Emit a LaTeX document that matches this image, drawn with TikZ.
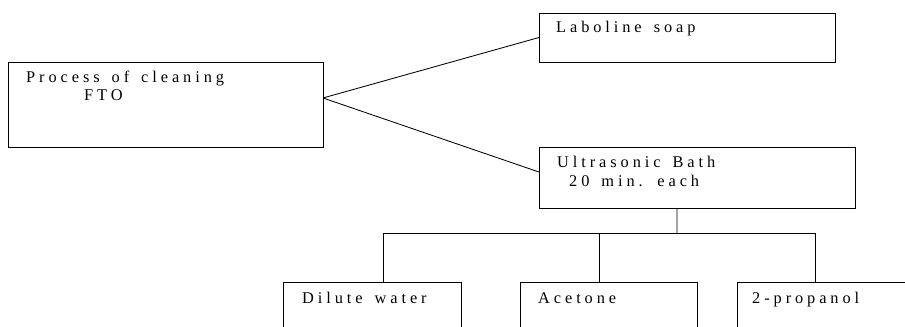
\documentclass[tikz,border=0pt]{standalone}
\usepackage{fontspec}
\setmainfont{Liberation Serif}
\newfontfamily\spaced[LetterSpace=24, WordSpace=1.5]{Liberation Serif}
\usetikzlibrary{positioning}

\tikzset{
    box/.style={rectangle, draw, line width=0.8pt, inner sep=0pt, outer sep=0pt},
    txt/.style={anchor=base west, inner sep=0pt, font=\spaced\fontsize{15.5}{18}\selectfont},
    link/.style={line width=0.8pt}
}

\begin{document}
\begin{tikzpicture}
        \useasboundingbox (0,0) rectangle (30.167,-10.9);
        \clip (0,0) rectangle (30.167,-10.9);

        \node[box, minimum width=10.5cm, minimum height=2.833cm] (fto) at (5.517,-3.483) {};
        \node[box, minimum width=9.867cm, minimum height=1.633cm] (soap) at (22.9,-1.25) {};
        \node[box, minimum width=10.533cm, minimum height=2.033cm] (ultra) at (23.233,-5.917) {};
        \node[box, minimum width=5.933cm, minimum height=2cm] (water) at (12.4,-10.4) {};
        \node[box, minimum width=5.9cm, minimum height=2cm] (acetone) at (20.283,-10.4) {};
        \node[box, minimum width=5.9cm, minimum height=2cm] (propanol) at (27.517,-10.4) {};

        \node[txt] (ftoa) at ([shift={(0.6,-0.667)}]fto.north west) {Process of cleaning};
        \node[txt] (ftob) at ([shift={(2.533,-1.3)}]fto.north west) {FTO};
        \node[txt] (soapa) at ([shift={(0.567,-0.656)}]soap.north west) {Laboline soap};
        \node[txt] (ultraa) at ([shift={(0.6,-0.667)}]ultra.north west) {Ultrasonic Bath};
        \node[txt] (ultrab) at ([shift={(1,-1.3)}]ultra.north west) {20 min. each};
        \node[txt] (watera) at ([shift={(0.633,-0.7)}]water.north west) {Dilute water};
        \node[txt] (acetonea) at ([shift={(0.6,-0.7)}]acetone.north west) {Acetone};
        \node[txt] (propanola) at ([shift={(0.5,-0.7)}]propanol.north west) {2-propanol};

        \coordinate (hub) at (22.567,-7.767);

        \draw[link] ([yshift=0.217cm]fto.east) -- (soap.west)
            ([yshift=0.217cm]fto.east) -- ([yshift=0.183cm]ultra.west);
        \draw[link] ([xshift=-0.667cm]ultra.south) -- (hub);
        \draw[link] (hub) -| ([xshift=0.367cm]water.north)
            (hub) -| ([xshift=-0.317cm]acetone.north)
            (hub) -| ([xshift=-0.35cm]propanol.north);
    \end{tikzpicture}
\end{document}
